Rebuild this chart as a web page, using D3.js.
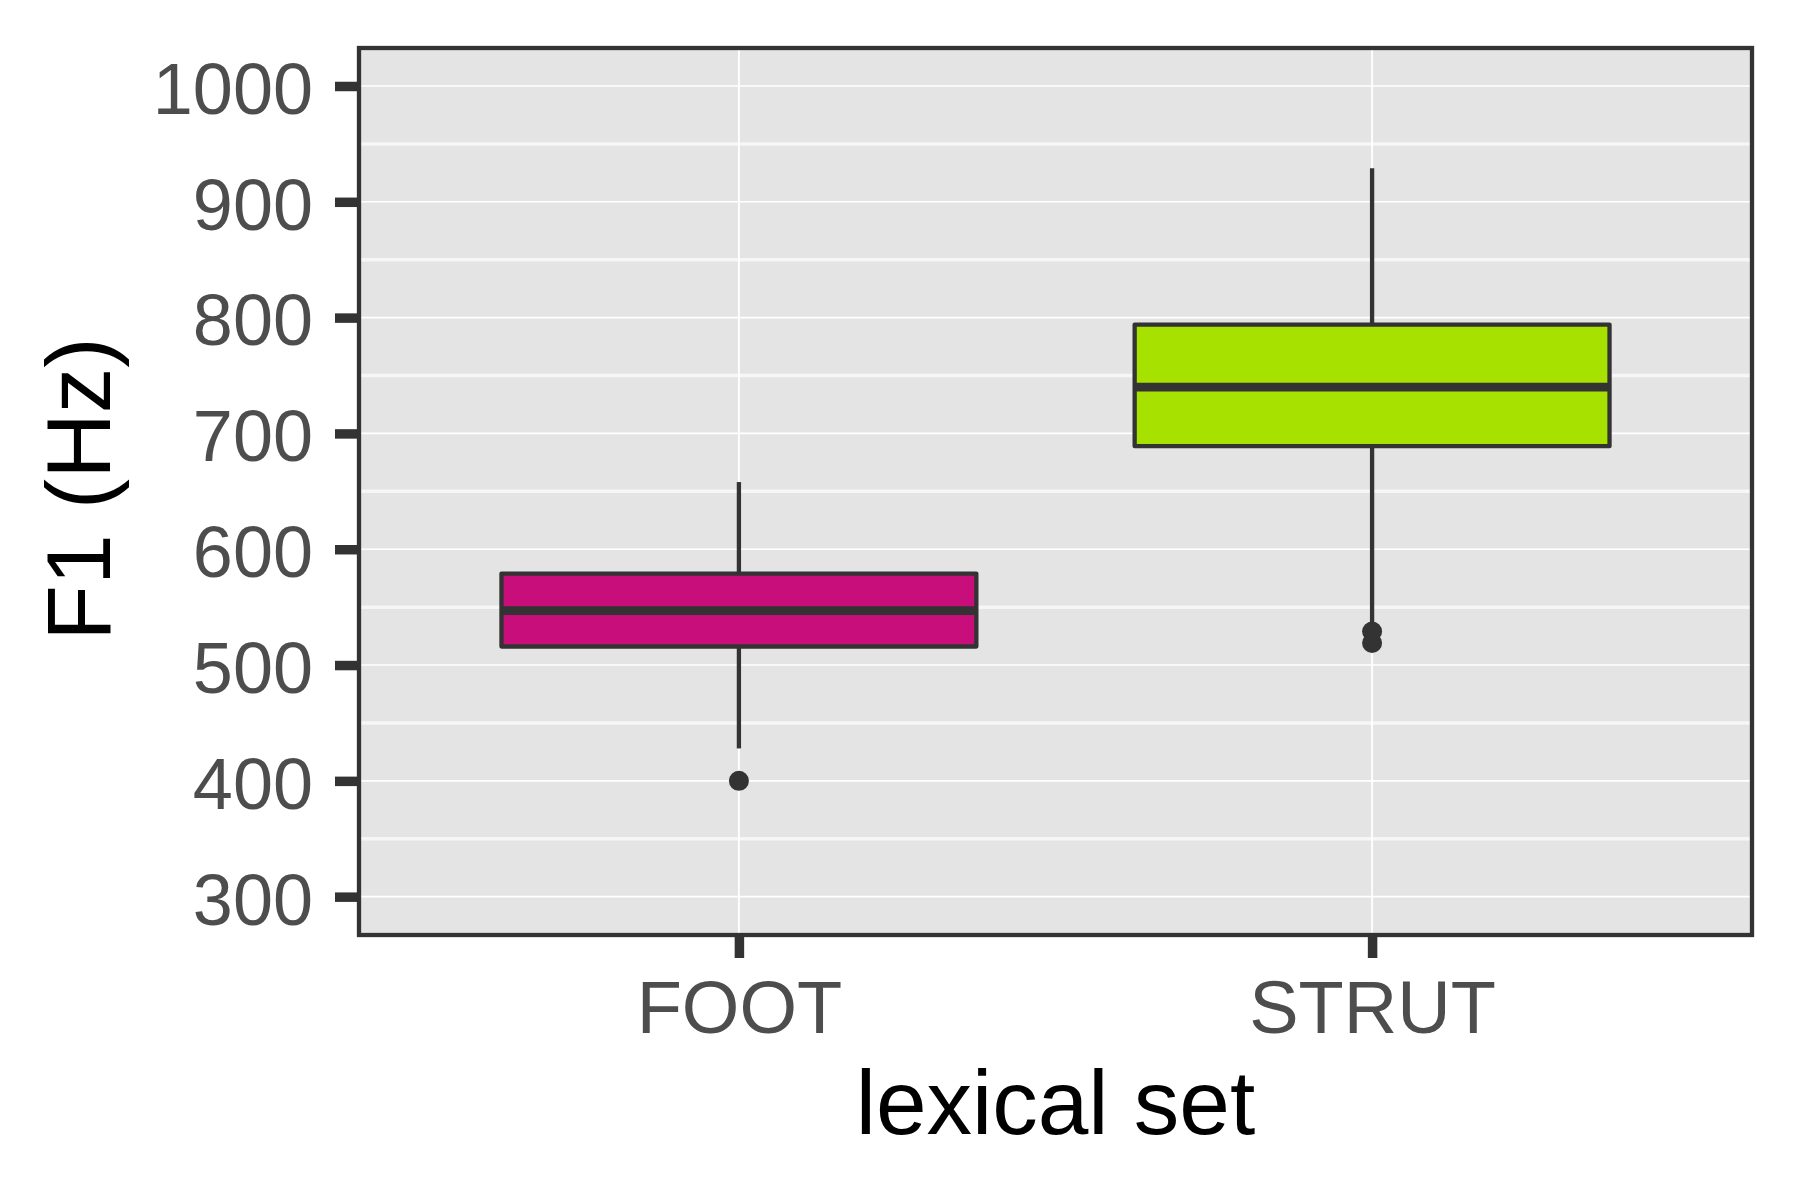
<!DOCTYPE html>
<html>
<head>
<meta charset="utf-8">
<script src="https://cdn.jsdelivr.net/npm/d3@7"></script>
<style>
  html, body { margin: 0; padding: 0; background: #ffffff; }
  svg { display: block; }
  text { font-family: "Liberation Sans", Arial, Helvetica, sans-serif; }
</style>
</head>
<body>
<script>
// ---- data ----
const categories = ["FOOT", "STRUT"];
const whiskerLow = [428, 533];
const q1 = [516, 689];
const medians = [547, 740];
const q3 = [579, 794];
const whiskerHigh = [658, 929];
const outliers = [[400], [529, 519]];
const fills = ["#c80e7a", "#a6e100"];
const yTicks = [300, 400, 500, 600, 700, 800, 900, 1000];
const yMinor = [350, 450, 550, 650, 750, 850, 950];
const yTitle = "F1 (Hz)";
const xTitle = "lexical set";

// ---- layout ----
const W = 1800, H = 1200;
const panel = { left: 359, top: 48, right: 1752, bottom: 935 };

const svg = d3.select("body").append("svg")
  .attr("width", W).attr("height", H);

const y = d3.scaleLinear().domain([266.9, 1032.8]).range([panel.bottom, panel.top]);
const x = d3.scalePoint().domain(categories).range([panel.left, panel.right]).padding(0.6);
const step = x.step();
const boxW = step * 0.75;

// panel background
svg.append("rect")
  .attr("x", panel.left).attr("y", panel.top)
  .attr("width", panel.right - panel.left).attr("height", panel.bottom - panel.top)
  .attr("fill", "#e4e4e4");

// minor gridlines
svg.append("g").selectAll("line").data(yMinor).join("line")
  .attr("x1", panel.left).attr("x2", panel.right)
  .attr("y1", d => y(d)).attr("y2", d => y(d))
  .attr("stroke", "#f6f6f6").attr("stroke-width", 3.5);

// major gridlines
svg.append("g").selectAll("line").data(yTicks).join("line")
  .attr("x1", panel.left).attr("x2", panel.right)
  .attr("y1", d => y(d)).attr("y2", d => y(d))
  .attr("stroke", "#ffffff").attr("stroke-width", 1.6);
svg.append("g").selectAll("line").data(categories).join("line")
  .attr("x1", d => x(d)).attr("x2", d => x(d))
  .attr("y1", panel.top).attr("y2", panel.bottom)
  .attr("stroke", "#ffffff").attr("stroke-width", 1.8);

// boxplots
const boxes = svg.append("g").selectAll("g").data(categories).join("g");
const lineCol = "#333333";
boxes.append("line")
  .attr("x1", d => x(d)).attr("x2", d => x(d))
  .attr("y1", (d, i) => y(whiskerHigh[i])).attr("y2", (d, i) => y(q3[i]))
  .attr("stroke", lineCol).attr("stroke-width", 4.3);
boxes.append("line")
  .attr("x1", d => x(d)).attr("x2", d => x(d))
  .attr("y1", (d, i) => y(q1[i])).attr("y2", (d, i) => y(whiskerLow[i]))
  .attr("stroke", lineCol).attr("stroke-width", 4.3);
boxes.append("rect")
  .attr("x", d => x(d) - boxW / 2)
  .attr("width", boxW)
  .attr("y", (d, i) => y(q3[i]))
  .attr("height", (d, i) => y(q1[i]) - y(q3[i]))
  .attr("fill", (d, i) => fills[i])
  .attr("stroke", lineCol).attr("stroke-width", 4.3)
  .attr("stroke-linejoin", "round");
boxes.append("line")
  .attr("x1", d => x(d) - boxW / 2).attr("x2", d => x(d) + boxW / 2)
  .attr("y1", (d, i) => y(medians[i])).attr("y2", (d, i) => y(medians[i]))
  .attr("stroke", lineCol).attr("stroke-width", 8.6);
boxes.each(function (d, i) {
  d3.select(this).selectAll("circle").data(outliers[i]).join("circle")
    .attr("cx", x(d)).attr("cy", v => y(v)).attr("r", 10)
    .attr("fill", lineCol);
});

// axes
const yAxis = svg.append("g")
  .attr("transform", `translate(${panel.left},0)`)
  .call(d3.axisLeft(y).tickValues(yTicks).tickFormat(d3.format("d")).tickSize(24).tickPadding(22));
const xAxis = svg.append("g")
  .attr("transform", `translate(0,${panel.bottom})`)
  .call(d3.axisBottom(x).tickSize(23).tickPadding(22));
[yAxis, xAxis].forEach(a => {
  a.select(".domain").remove();
  a.selectAll(".tick line").attr("stroke", lineCol).attr("stroke-width", 9.5);
  a.selectAll(".tick text")
    .attr("fill", "#4d4d4d")
    .style("font-family", "'Liberation Sans', Arial, Helvetica, sans-serif");
});
yAxis.selectAll(".tick text").attr("dy", "0.38em").style("font-size", "72px");
xAxis.selectAll(".tick text").style("font-size", "74px");

// panel border
svg.append("rect")
  .attr("x", panel.left).attr("y", panel.top)
  .attr("width", panel.right - panel.left).attr("height", panel.bottom - panel.top)
  .attr("fill", "none").attr("stroke", lineCol).attr("stroke-width", 4.3);

// titles
svg.append("text")
  .attr("transform", `translate(110,489) rotate(-90)`)
  .attr("text-anchor", "middle")
  .attr("fill", "#000000")
  .style("font-size", "91px")
  .text(yTitle);
svg.append("text")
  .attr("x", (panel.left + panel.right) / 2).attr("y", 1134)
  .attr("text-anchor", "middle")
  .attr("fill", "#000000")
  .style("font-size", "91px")
  .text(xTitle);
</script>
</body>
</html>
